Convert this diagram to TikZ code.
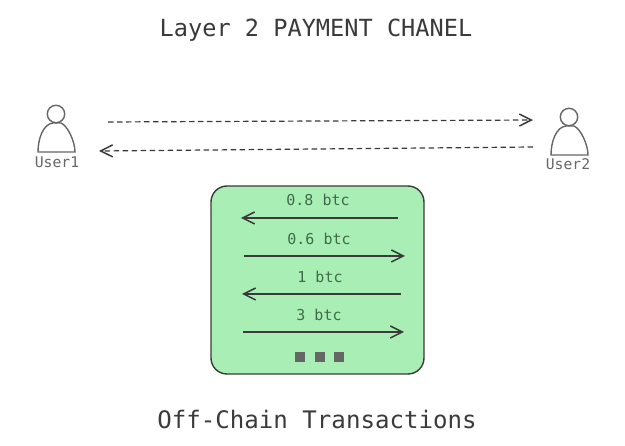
\documentclass[tikz,border=0pt]{standalone}
\usepackage{fontspec}
\setmainfont{DejaVu Sans Mono}
\usetikzlibrary{arrows.meta}
\definecolor{ink}{HTML}{3A3A3A}
\definecolor{softink}{HTML}{666666}
\definecolor{greenfill}{HTML}{A9EFB5}
\definecolor{labelink}{HTML}{3F6B4A}
\tikzset{
  x=1pt,y=-1pt,
  tip/.style={-{Straight Barb[length=12pt,width=12pt,line width=1.5pt]}},
  flow/.style={draw=ink,line width=1.2pt,tip},
  heavyflow/.style={draw=ink,line width=1.8pt,tip},
  dashflow/.style={draw=ink,line width=1.2pt,dash pattern=on 5.5pt off 3.5pt,tip},
  persona/.style={draw=softink,line width=1.4pt},
  amount/.style={font=\fontsize{15pt}{17pt}\selectfont,text=labelink,inner sep=0pt,anchor=center},
  username/.style={font=\fontsize{14.7pt}{17pt}\selectfont,text=softink,inner sep=0pt,anchor=center},
  heading/.style={font=\fontsize{#1}{28pt}\selectfont,text=ink,inner sep=0pt,anchor=center},
  dotmark/.style={fill=softink,draw=none,minimum size=10pt,inner sep=0pt,rectangle},
  person/.pic={
    \draw[persona] (0,-1) circle (8.7);
    \draw[persona] (-3,8) .. controls (-13,9) and (-18,24) .. (-18,37)
      -- (19,37) .. controls (19,27) and (12,11) .. (5,8) -- cycle;
  }
}
\begin{document}
\begin{tikzpicture}
\useasboundingbox[fill=white] (0,0) rectangle (625,446);
\node[heading=23.6pt] (title) at (316,30) {Layer 2 PAYMENT CHANEL};
\pic at (56,115) {person};
\pic at (569,118) {person};
\node[username] (u1) at (57,162) {User1};
\node[username] (u2) at (568,164) {User2};
\coordinate (a1) at (108,122);
\coordinate (a2) at (533,120);
\coordinate (b1) at (533,147);
\coordinate (b2) at (99,151);
\draw[dashflow] (a1) -- (a2);
\draw[dashflow] (b1) -- (b2);
\node[draw=ink,line width=1.4pt,fill=greenfill,rounded corners=16pt,minimum width=213pt,minimum height=188pt,inner sep=0pt] (channel) at (317.5,280) {};
\node[amount] (l1) at (318,200) {0.8 btc};
\node[amount] (l2) at (319,239) {0.6 btc};
\node[amount] (l3) at (320,277) {1 btc};
\node[amount] (l4) at (319,315) {3 btc};
\coordinate (c1s) at (398,218); \coordinate (c1e) at (241,218);
\coordinate (c2s) at (244,256); \coordinate (c2e) at (405,256);
\coordinate (c3s) at (401,294); \coordinate (c3e) at (242,294);
\coordinate (c4s) at (243,332); \coordinate (c4e) at (404,332);
\draw[heavyflow] (c1s) -- (c1e);
\draw[flow] (c2s) -- (c2e);
\draw[heavyflow] (c3s) -- (c3e);
\draw[flow] (c4s) -- (c4e);
\node[dotmark] (d1) at (300,357) {};
\node[dotmark] (d2) at (320,357) {};
\node[dotmark] (d3) at (339,357) {};
\node[heading=24.1pt] (foot) at (317,420) {Off-Chain Transactions};
\end{tikzpicture}
\end{document}
